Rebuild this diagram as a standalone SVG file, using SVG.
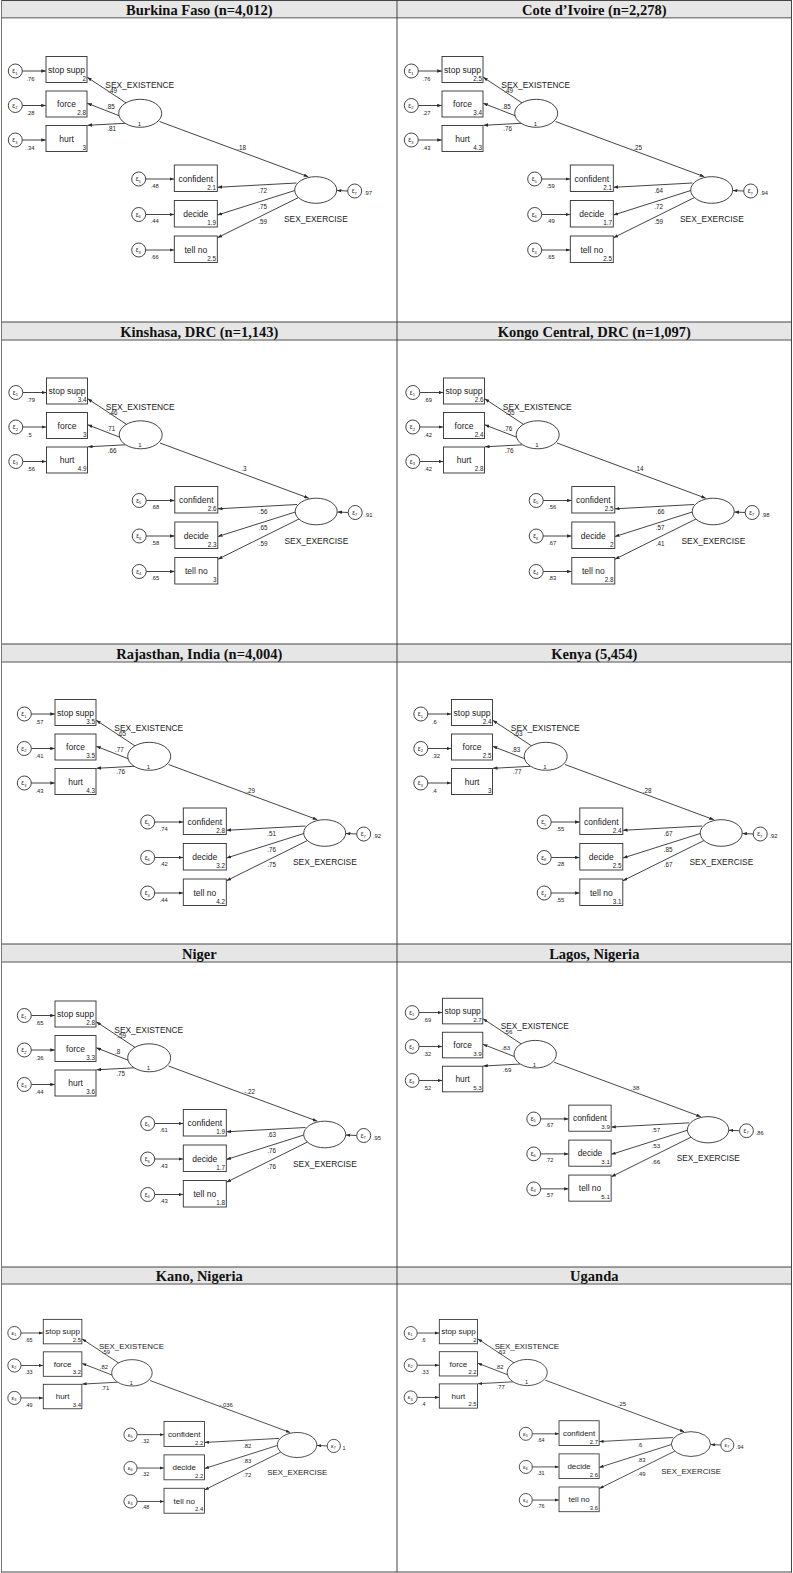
<svg xmlns="http://www.w3.org/2000/svg" width="793" height="1573" viewBox="0 0 793 1573">
<defs>
<marker id="ah" viewBox="0 0 8 6" refX="8" refY="3" markerWidth="4.6" markerHeight="3.4" markerUnits="userSpaceOnUse" orient="auto"><path d="M0,0L8,3L0,6z" fill="#2a2a2a"/></marker>
<style>
.hd{fill:#e6e6e6}
.tl{font-family:"Liberation Serif","Times New Roman",serif;font-weight:bold;font-size:14.5px;text-anchor:middle;fill:#111}
.gd{stroke:#444;stroke-width:1}
.gb{stroke:#888;stroke-width:1.5}
.ln line{stroke:#2f2f2f;stroke-width:0.9;marker-end:url(#ah)}
.bx{fill:#fff;stroke:#2f2f2f;stroke-width:0.9}
.d text{font-family:"Liberation Sans",Arial,sans-serif;fill:#222}
.d .lb{font-size:8.5px;text-anchor:middle}
.d .lt{font-size:8.4px}
.d .nv{font-size:6.3px;text-anchor:end}
.d .vr{font-size:5.8px}
.d .ld{font-size:6.3px}
.d .pt{font-size:6.3px;text-anchor:end}
.d .one{font-size:6px;text-anchor:middle}
.d .ep{font-size:6.5px}
.d .sb{font-size:4px}
</style>
</defs>
<rect x="0" y="0" width="793" height="1573" fill="#fff"/>
<g id="table">
<rect class="hd" x="1.5" y="0" width="790" height="18"/>
<rect class="hd" x="1.5" y="322" width="790" height="18"/>
<rect class="hd" x="1.5" y="644" width="790" height="18"/>
<rect class="hd" x="1.5" y="944" width="790" height="18"/>
<rect class="hd" x="1.5" y="1267" width="790" height="17"/>
<line class="gd" x1="1" y1="0.5" x2="792" y2="0.5"/>
<line class="gb" x1="1" y1="17.8" x2="792" y2="17.8"/>
<line class="gd" x1="1" y1="322" x2="792" y2="322"/>
<line class="gb" x1="1" y1="340" x2="792" y2="340"/>
<line class="gd" x1="1" y1="644" x2="792" y2="644"/>
<line class="gb" x1="1" y1="662" x2="792" y2="662"/>
<line class="gd" x1="1" y1="944" x2="792" y2="944"/>
<line class="gb" x1="1" y1="962" x2="792" y2="962"/>
<line class="gd" x1="1" y1="1267" x2="792" y2="1267"/>
<line class="gb" x1="1" y1="1284" x2="792" y2="1284"/>
<line class="gd" x1="1" y1="1572" x2="792" y2="1572"/>
<line x1="1.5" y1="0" x2="1.5" y2="1572.5" stroke="#777" stroke-width="1"/>
<line class="gd" x1="397" y1="0" x2="397" y2="1572.5"/>
<line class="gd" x1="791.5" y1="0" x2="791.5" y2="1572.5"/>
<text class="tl" x="199.3" y="15">Burkina Faso (n=4,012)</text>
<text class="tl" x="594.3" y="15">Cote d’Ivoire (n=2,278)</text>
<text class="tl" x="199.3" y="337">Kinshasa, DRC (n=1,143)</text>
<text class="tl" x="594.3" y="337">Kongo Central, DRC (n=1,097)</text>
<text class="tl" x="199.3" y="659">Rajasthan, India (n=4,004)</text>
<text class="tl" x="594.3" y="659">Kenya (5,454)</text>
<text class="tl" x="199.3" y="959">Niger</text>
<text class="tl" x="594.3" y="959">Lagos, Nigeria</text>
<text class="tl" x="199.3" y="1281">Kano, Nigeria</text>
<text class="tl" x="594.3" y="1281">Uganda</text>
</g>

<g id="bf" class="d" transform="translate(0,0)">
<g id="bf-conn" class="ln">
<line x1="22.3" y1="71" x2="45.8" y2="71"/><line x1="22.3" y1="105.5" x2="45.8" y2="105.5"/><line x1="22.3" y1="140" x2="45.8" y2="140"/>
<line x1="126.2" y1="103" x2="87.3" y2="77.3"/><line x1="119.1" y1="115.7" x2="87.3" y2="103.3"/><line x1="125" y1="123.3" x2="87.5" y2="125.3"/>
<line x1="159.5" y1="121.5" x2="308.3" y2="176.7"/><line x1="347.7" y1="191" x2="336.9" y2="190.5"/>
<line x1="145.7" y1="179" x2="174.1" y2="179"/><line x1="145.7" y1="214.5" x2="174.1" y2="214.5"/><line x1="145.7" y1="250" x2="174.1" y2="250"/>
<line x1="296.5" y1="183" x2="217.5" y2="187.3"/><line x1="294.8" y1="190.5" x2="217.5" y2="215"/><line x1="298.5" y1="197.5" x2="217.5" y2="237.7"/>
<text class="ld" x="108.3" y="93">.49</text><text class="ld" x="106" y="109.3">.85</text><text class="ld" x="107.3" y="131.3">.81</text>
<text class="pt" x="246" y="149.5">.18</text>
<text class="ld" x="258.3" y="192.7">.72</text><text class="ld" x="258.3" y="208.7">.75</text><text class="ld" x="258.3" y="224.3">.59</text>
</g>
<g id="bf-e1"><circle class="bx" cx="15.3" cy="71" r="7"/><text class="ep" x="12.3" y="73.2">ε<tspan class="sb" dy="1.3">1</tspan></text><text class="vr" x="26.5" y="80.5">.76</text></g>
<g id="bf-e2"><circle class="bx" cx="15.3" cy="105.5" r="7"/><text class="ep" x="12.3" y="107.7">ε<tspan class="sb" dy="1.3">2</tspan></text><text class="vr" x="26.5" y="115">.28</text></g>
<g id="bf-e3"><circle class="bx" cx="15.3" cy="140" r="7"/><text class="ep" x="12.3" y="142.2">ε<tspan class="sb" dy="1.3">3</tspan></text><text class="vr" x="26.5" y="149.5">.34</text></g>
<g id="bf-stop"><rect class="bx" x="46" y="56.5" width="41" height="26"/><text class="lb" x="66.5" y="72.5">stop supp</text><text class="nv" x="86" y="80.5">2</text></g>
<g id="bf-force"><rect class="bx" x="46" y="91" width="41" height="26"/><text class="lb" x="66.5" y="107">force</text><text class="nv" x="86" y="115">2.8</text></g>
<g id="bf-hurt"><rect class="bx" x="46" y="125.5" width="41" height="26"/><text class="lb" x="66.5" y="141.5">hurt</text><text class="nv" x="86" y="149.5">3</text></g>
<g id="bf-exist"><ellipse class="bx" cx="140.2" cy="113.3" rx="21.5" ry="14"/><text class="one" x="139.5" y="125.8">1</text><text class="lt" x="105.3" y="88">SEX_EXISTENCE</text></g>
<g id="bf-exer"><ellipse class="bx" cx="315.7" cy="190" rx="21" ry="13.3"/><text class="lt" x="284" y="222">SEX_EXERCISE</text></g>
<g id="bf-e7"><circle class="bx" cx="354.7" cy="191" r="7"/><text class="ep" x="351.7" y="193.2">ε<tspan class="sb" dy="1.3">7</tspan></text><text class="vr" x="364" y="195">.97</text></g>
<g id="bf-conf"><rect class="bx" x="174.3" y="165" width="43" height="26.5"/><text class="lb" x="195.8" y="181.5">confident</text><text class="nv" x="216" y="189.5">2.1</text></g>
<g id="bf-dec"><rect class="bx" x="174.3" y="200.5" width="43" height="26.5"/><text class="lb" x="195.8" y="217">decide</text><text class="nv" x="216" y="225">1.9</text></g>
<g id="bf-tell"><rect class="bx" x="174.3" y="236" width="43" height="26.5"/><text class="lb" x="195.8" y="252.5">tell no</text><text class="nv" x="216" y="260.5">2.5</text></g>
<g id="bf-e5"><circle class="bx" cx="138.7" cy="179" r="7"/><text class="ep" x="135.7" y="181.2">ε<tspan class="sb" dy="1.3">5</tspan></text><text class="vr" x="150.7" y="187.5">.48</text></g>
<g id="bf-e6"><circle class="bx" cx="138.7" cy="214.5" r="7"/><text class="ep" x="135.7" y="216.7">ε<tspan class="sb" dy="1.3">6</tspan></text><text class="vr" x="150.7" y="223">.44</text></g>
<g id="bf-e4"><circle class="bx" cx="138.7" cy="250" r="7"/><text class="ep" x="135.7" y="252.2">ε<tspan class="sb" dy="1.3">4</tspan></text><text class="vr" x="150.7" y="258.5">.66</text></g>
</g>

<g id="ci" class="d" transform="translate(396,0)">
<g id="ci-conn" class="ln">
<line x1="22.3" y1="71" x2="45.8" y2="71"/><line x1="22.3" y1="105.5" x2="45.8" y2="105.5"/><line x1="22.3" y1="140" x2="45.8" y2="140"/>
<line x1="126.2" y1="103" x2="87.3" y2="77.3"/><line x1="119.1" y1="115.7" x2="87.3" y2="103.3"/><line x1="125" y1="123.3" x2="87.5" y2="125.3"/>
<line x1="159.5" y1="121.5" x2="308.3" y2="176.7"/><line x1="347.7" y1="191" x2="336.9" y2="190.5"/>
<line x1="145.7" y1="179" x2="174.1" y2="179"/><line x1="145.7" y1="214.5" x2="174.1" y2="214.5"/><line x1="145.7" y1="250" x2="174.1" y2="250"/>
<line x1="296.5" y1="183" x2="217.5" y2="187.3"/><line x1="294.8" y1="190.5" x2="217.5" y2="215"/><line x1="298.5" y1="197.5" x2="217.5" y2="237.7"/>
<text class="ld" x="108.3" y="93">.49</text><text class="ld" x="106" y="109.3">.85</text><text class="ld" x="107.3" y="131.3">.76</text>
<text class="pt" x="246" y="149.5">.25</text>
<text class="ld" x="258.3" y="192.7">.64</text><text class="ld" x="258.3" y="208.7">.72</text><text class="ld" x="258.3" y="224.3">.59</text>
</g>
<g id="ci-e1"><circle class="bx" cx="15.3" cy="71" r="7"/><text class="ep" x="12.3" y="73.2">ε<tspan class="sb" dy="1.3">1</tspan></text><text class="vr" x="26.5" y="80.5">.76</text></g>
<g id="ci-e2"><circle class="bx" cx="15.3" cy="105.5" r="7"/><text class="ep" x="12.3" y="107.7">ε<tspan class="sb" dy="1.3">2</tspan></text><text class="vr" x="26.5" y="115">.27</text></g>
<g id="ci-e3"><circle class="bx" cx="15.3" cy="140" r="7"/><text class="ep" x="12.3" y="142.2">ε<tspan class="sb" dy="1.3">3</tspan></text><text class="vr" x="26.5" y="149.5">.43</text></g>
<g id="ci-stop"><rect class="bx" x="46" y="56.5" width="41" height="26"/><text class="lb" x="66.5" y="72.5">stop supp</text><text class="nv" x="86" y="80.5">2.5</text></g>
<g id="ci-force"><rect class="bx" x="46" y="91" width="41" height="26"/><text class="lb" x="66.5" y="107">force</text><text class="nv" x="86" y="115">3.4</text></g>
<g id="ci-hurt"><rect class="bx" x="46" y="125.5" width="41" height="26"/><text class="lb" x="66.5" y="141.5">hurt</text><text class="nv" x="86" y="149.5">4.3</text></g>
<g id="ci-exist"><ellipse class="bx" cx="140.2" cy="113.3" rx="21.5" ry="14"/><text class="one" x="139.5" y="125.8">1</text><text class="lt" x="105.3" y="88">SEX_EXISTENCE</text></g>
<g id="ci-exer"><ellipse class="bx" cx="315.7" cy="190" rx="21" ry="13.3"/><text class="lt" x="284" y="222">SEX_EXERCISE</text></g>
<g id="ci-e7"><circle class="bx" cx="354.7" cy="191" r="7"/><text class="ep" x="351.7" y="193.2">ε<tspan class="sb" dy="1.3">7</tspan></text><text class="vr" x="364" y="195">.94</text></g>
<g id="ci-conf"><rect class="bx" x="174.3" y="165" width="43" height="26.5"/><text class="lb" x="195.8" y="181.5">confident</text><text class="nv" x="216" y="189.5">2.1</text></g>
<g id="ci-dec"><rect class="bx" x="174.3" y="200.5" width="43" height="26.5"/><text class="lb" x="195.8" y="217">decide</text><text class="nv" x="216" y="225">1.7</text></g>
<g id="ci-tell"><rect class="bx" x="174.3" y="236" width="43" height="26.5"/><text class="lb" x="195.8" y="252.5">tell no</text><text class="nv" x="216" y="260.5">2.5</text></g>
<g id="ci-e5"><circle class="bx" cx="138.7" cy="179" r="7"/><text class="ep" x="135.7" y="181.2">ε<tspan class="sb" dy="1.3">5</tspan></text><text class="vr" x="150.7" y="187.5">.59</text></g>
<g id="ci-e6"><circle class="bx" cx="138.7" cy="214.5" r="7"/><text class="ep" x="135.7" y="216.7">ε<tspan class="sb" dy="1.3">6</tspan></text><text class="vr" x="150.7" y="223">.49</text></g>
<g id="ci-e4"><circle class="bx" cx="138.7" cy="250" r="7"/><text class="ep" x="135.7" y="252.2">ε<tspan class="sb" dy="1.3">4</tspan></text><text class="vr" x="150.7" y="258.5">.65</text></g>
</g>

<g id="kin" class="d" transform="translate(0.5,321.5)">
<g id="kin-conn" class="ln">
<line x1="22.3" y1="71" x2="45.8" y2="71"/><line x1="22.3" y1="105.5" x2="45.8" y2="105.5"/><line x1="22.3" y1="140" x2="45.8" y2="140"/>
<line x1="126.2" y1="103" x2="87.3" y2="77.3"/><line x1="119.1" y1="115.7" x2="87.3" y2="103.3"/><line x1="125" y1="123.3" x2="87.5" y2="125.3"/>
<line x1="159.5" y1="121.5" x2="308.3" y2="176.7"/><line x1="347.7" y1="191" x2="336.9" y2="190.5"/>
<line x1="145.7" y1="179" x2="174.1" y2="179"/><line x1="145.7" y1="214.5" x2="174.1" y2="214.5"/><line x1="145.7" y1="250" x2="174.1" y2="250"/>
<line x1="296.5" y1="183" x2="217.5" y2="187.3"/><line x1="294.8" y1="190.5" x2="217.5" y2="215"/><line x1="298.5" y1="197.5" x2="217.5" y2="237.7"/>
<text class="ld" x="108.3" y="93">.46</text><text class="ld" x="106" y="109.3">.71</text><text class="ld" x="107.3" y="131.3">.66</text>
<text class="pt" x="246" y="149.5">.3</text>
<text class="ld" x="258.3" y="192.7">.56</text><text class="ld" x="258.3" y="208.7">.65</text><text class="ld" x="258.3" y="224.3">.59</text>
</g>
<g id="kin-e1"><circle class="bx" cx="15.3" cy="71" r="7"/><text class="ep" x="12.3" y="73.2">ε<tspan class="sb" dy="1.3">1</tspan></text><text class="vr" x="26.5" y="80.5">.79</text></g>
<g id="kin-e2"><circle class="bx" cx="15.3" cy="105.5" r="7"/><text class="ep" x="12.3" y="107.7">ε<tspan class="sb" dy="1.3">2</tspan></text><text class="vr" x="26.5" y="115">.5</text></g>
<g id="kin-e3"><circle class="bx" cx="15.3" cy="140" r="7"/><text class="ep" x="12.3" y="142.2">ε<tspan class="sb" dy="1.3">3</tspan></text><text class="vr" x="26.5" y="149.5">.56</text></g>
<g id="kin-stop"><rect class="bx" x="46" y="56.5" width="41" height="26"/><text class="lb" x="66.5" y="72.5">stop supp</text><text class="nv" x="86" y="80.5">3.4</text></g>
<g id="kin-force"><rect class="bx" x="46" y="91" width="41" height="26"/><text class="lb" x="66.5" y="107">force</text><text class="nv" x="86" y="115">3</text></g>
<g id="kin-hurt"><rect class="bx" x="46" y="125.5" width="41" height="26"/><text class="lb" x="66.5" y="141.5">hurt</text><text class="nv" x="86" y="149.5">4.9</text></g>
<g id="kin-exist"><ellipse class="bx" cx="140.2" cy="113.3" rx="21.5" ry="14"/><text class="one" x="139.5" y="125.8">1</text><text class="lt" x="105.3" y="88">SEX_EXISTENCE</text></g>
<g id="kin-exer"><ellipse class="bx" cx="315.7" cy="190" rx="21" ry="13.3"/><text class="lt" x="284" y="222">SEX_EXERCISE</text></g>
<g id="kin-e7"><circle class="bx" cx="354.7" cy="191" r="7"/><text class="ep" x="351.7" y="193.2">ε<tspan class="sb" dy="1.3">7</tspan></text><text class="vr" x="364" y="195">.91</text></g>
<g id="kin-conf"><rect class="bx" x="174.3" y="165" width="43" height="26.5"/><text class="lb" x="195.8" y="181.5">confident</text><text class="nv" x="216" y="189.5">2.6</text></g>
<g id="kin-dec"><rect class="bx" x="174.3" y="200.5" width="43" height="26.5"/><text class="lb" x="195.8" y="217">decide</text><text class="nv" x="216" y="225">2.3</text></g>
<g id="kin-tell"><rect class="bx" x="174.3" y="236" width="43" height="26.5"/><text class="lb" x="195.8" y="252.5">tell no</text><text class="nv" x="216" y="260.5">3</text></g>
<g id="kin-e5"><circle class="bx" cx="138.7" cy="179" r="7"/><text class="ep" x="135.7" y="181.2">ε<tspan class="sb" dy="1.3">5</tspan></text><text class="vr" x="150.7" y="187.5">.68</text></g>
<g id="kin-e6"><circle class="bx" cx="138.7" cy="214.5" r="7"/><text class="ep" x="135.7" y="216.7">ε<tspan class="sb" dy="1.3">6</tspan></text><text class="vr" x="150.7" y="223">.58</text></g>
<g id="kin-e4"><circle class="bx" cx="138.7" cy="250" r="7"/><text class="ep" x="135.7" y="252.2">ε<tspan class="sb" dy="1.3">4</tspan></text><text class="vr" x="150.7" y="258.5">.65</text></g>
</g>

<g id="kon" class="d" transform="translate(397.5,321.5)">
<g id="kon-conn" class="ln">
<line x1="22.3" y1="71" x2="45.8" y2="71"/><line x1="22.3" y1="105.5" x2="45.8" y2="105.5"/><line x1="22.3" y1="140" x2="45.8" y2="140"/>
<line x1="126.2" y1="103" x2="87.3" y2="77.3"/><line x1="119.1" y1="115.7" x2="87.3" y2="103.3"/><line x1="125" y1="123.3" x2="87.5" y2="125.3"/>
<line x1="159.5" y1="121.5" x2="308.3" y2="176.7"/><line x1="347.7" y1="191" x2="336.9" y2="190.5"/>
<line x1="145.7" y1="179" x2="174.1" y2="179"/><line x1="145.7" y1="214.5" x2="174.1" y2="214.5"/><line x1="145.7" y1="250" x2="174.1" y2="250"/>
<line x1="296.5" y1="183" x2="217.5" y2="187.3"/><line x1="294.8" y1="190.5" x2="217.5" y2="215"/><line x1="298.5" y1="197.5" x2="217.5" y2="237.7"/>
<text class="ld" x="108.3" y="93">.55</text><text class="ld" x="106" y="109.3">.76</text><text class="ld" x="107.3" y="131.3">.76</text>
<text class="pt" x="246" y="149.5">.14</text>
<text class="ld" x="258.3" y="192.7">.66</text><text class="ld" x="258.3" y="208.7">.57</text><text class="ld" x="258.3" y="224.3">.41</text>
</g>
<g id="kon-e1"><circle class="bx" cx="15.3" cy="71" r="7"/><text class="ep" x="12.3" y="73.2">ε<tspan class="sb" dy="1.3">1</tspan></text><text class="vr" x="26.5" y="80.5">.69</text></g>
<g id="kon-e2"><circle class="bx" cx="15.3" cy="105.5" r="7"/><text class="ep" x="12.3" y="107.7">ε<tspan class="sb" dy="1.3">2</tspan></text><text class="vr" x="26.5" y="115">.42</text></g>
<g id="kon-e3"><circle class="bx" cx="15.3" cy="140" r="7"/><text class="ep" x="12.3" y="142.2">ε<tspan class="sb" dy="1.3">3</tspan></text><text class="vr" x="26.5" y="149.5">.42</text></g>
<g id="kon-stop"><rect class="bx" x="46" y="56.5" width="41" height="26"/><text class="lb" x="66.5" y="72.5">stop supp</text><text class="nv" x="86" y="80.5">2.6</text></g>
<g id="kon-force"><rect class="bx" x="46" y="91" width="41" height="26"/><text class="lb" x="66.5" y="107">force</text><text class="nv" x="86" y="115">2.4</text></g>
<g id="kon-hurt"><rect class="bx" x="46" y="125.5" width="41" height="26"/><text class="lb" x="66.5" y="141.5">hurt</text><text class="nv" x="86" y="149.5">2.8</text></g>
<g id="kon-exist"><ellipse class="bx" cx="140.2" cy="113.3" rx="21.5" ry="14"/><text class="one" x="139.5" y="125.8">1</text><text class="lt" x="105.3" y="88">SEX_EXISTENCE</text></g>
<g id="kon-exer"><ellipse class="bx" cx="315.7" cy="190" rx="21" ry="13.3"/><text class="lt" x="284" y="222">SEX_EXERCISE</text></g>
<g id="kon-e7"><circle class="bx" cx="354.7" cy="191" r="7"/><text class="ep" x="351.7" y="193.2">ε<tspan class="sb" dy="1.3">7</tspan></text><text class="vr" x="364" y="195">.98</text></g>
<g id="kon-conf"><rect class="bx" x="174.3" y="165" width="43" height="26.5"/><text class="lb" x="195.8" y="181.5">confident</text><text class="nv" x="216" y="189.5">2.5</text></g>
<g id="kon-dec"><rect class="bx" x="174.3" y="200.5" width="43" height="26.5"/><text class="lb" x="195.8" y="217">decide</text><text class="nv" x="216" y="225">2</text></g>
<g id="kon-tell"><rect class="bx" x="174.3" y="236" width="43" height="26.5"/><text class="lb" x="195.8" y="252.5">tell no</text><text class="nv" x="216" y="260.5">2.8</text></g>
<g id="kon-e5"><circle class="bx" cx="138.7" cy="179" r="7"/><text class="ep" x="135.7" y="181.2">ε<tspan class="sb" dy="1.3">5</tspan></text><text class="vr" x="150.7" y="187.5">.56</text></g>
<g id="kon-e6"><circle class="bx" cx="138.7" cy="214.5" r="7"/><text class="ep" x="135.7" y="216.7">ε<tspan class="sb" dy="1.3">6</tspan></text><text class="vr" x="150.7" y="223">.67</text></g>
<g id="kon-e4"><circle class="bx" cx="138.7" cy="250" r="7"/><text class="ep" x="135.7" y="252.2">ε<tspan class="sb" dy="1.3">4</tspan></text><text class="vr" x="150.7" y="258.5">.83</text></g>
</g>

<g id="raj" class="d" transform="translate(9,643)">
<g id="raj-conn" class="ln">
<line x1="22.3" y1="71" x2="45.8" y2="71"/><line x1="22.3" y1="105.5" x2="45.8" y2="105.5"/><line x1="22.3" y1="140" x2="45.8" y2="140"/>
<line x1="126.2" y1="103" x2="87.3" y2="77.3"/><line x1="119.1" y1="115.7" x2="87.3" y2="103.3"/><line x1="125" y1="123.3" x2="87.5" y2="125.3"/>
<line x1="159.5" y1="121.5" x2="308.3" y2="176.7"/><line x1="347.7" y1="191" x2="336.9" y2="190.5"/>
<line x1="145.7" y1="179" x2="174.1" y2="179"/><line x1="145.7" y1="214.5" x2="174.1" y2="214.5"/><line x1="145.7" y1="250" x2="174.1" y2="250"/>
<line x1="296.5" y1="183" x2="217.5" y2="187.3"/><line x1="294.8" y1="190.5" x2="217.5" y2="215"/><line x1="298.5" y1="197.5" x2="217.5" y2="237.7"/>
<text class="ld" x="108.3" y="93">.65</text><text class="ld" x="106" y="109.3">.77</text><text class="ld" x="107.3" y="131.3">.76</text>
<text class="pt" x="246" y="149.5">.29</text>
<text class="ld" x="258.3" y="192.7">.51</text><text class="ld" x="258.3" y="208.7">.76</text><text class="ld" x="258.3" y="224.3">.75</text>
</g>
<g id="raj-e1"><circle class="bx" cx="15.3" cy="71" r="7"/><text class="ep" x="12.3" y="73.2">ε<tspan class="sb" dy="1.3">1</tspan></text><text class="vr" x="26.5" y="80.5">.57</text></g>
<g id="raj-e2"><circle class="bx" cx="15.3" cy="105.5" r="7"/><text class="ep" x="12.3" y="107.7">ε<tspan class="sb" dy="1.3">2</tspan></text><text class="vr" x="26.5" y="115">.41</text></g>
<g id="raj-e3"><circle class="bx" cx="15.3" cy="140" r="7"/><text class="ep" x="12.3" y="142.2">ε<tspan class="sb" dy="1.3">3</tspan></text><text class="vr" x="26.5" y="149.5">.43</text></g>
<g id="raj-stop"><rect class="bx" x="46" y="56.5" width="41" height="26"/><text class="lb" x="66.5" y="72.5">stop supp</text><text class="nv" x="86" y="80.5">3.5</text></g>
<g id="raj-force"><rect class="bx" x="46" y="91" width="41" height="26"/><text class="lb" x="66.5" y="107">force</text><text class="nv" x="86" y="115">3.5</text></g>
<g id="raj-hurt"><rect class="bx" x="46" y="125.5" width="41" height="26"/><text class="lb" x="66.5" y="141.5">hurt</text><text class="nv" x="86" y="149.5">4.3</text></g>
<g id="raj-exist"><ellipse class="bx" cx="140.2" cy="113.3" rx="21.5" ry="14"/><text class="one" x="139.5" y="125.8">1</text><text class="lt" x="105.3" y="88">SEX_EXISTENCE</text></g>
<g id="raj-exer"><ellipse class="bx" cx="315.7" cy="190" rx="21" ry="13.3"/><text class="lt" x="284" y="222">SEX_EXERCISE</text></g>
<g id="raj-e7"><circle class="bx" cx="354.7" cy="191" r="7"/><text class="ep" x="351.7" y="193.2">ε<tspan class="sb" dy="1.3">7</tspan></text><text class="vr" x="364" y="195">.92</text></g>
<g id="raj-conf"><rect class="bx" x="174.3" y="165" width="43" height="26.5"/><text class="lb" x="195.8" y="181.5">confident</text><text class="nv" x="216" y="189.5">2.8</text></g>
<g id="raj-dec"><rect class="bx" x="174.3" y="200.5" width="43" height="26.5"/><text class="lb" x="195.8" y="217">decide</text><text class="nv" x="216" y="225">3.2</text></g>
<g id="raj-tell"><rect class="bx" x="174.3" y="236" width="43" height="26.5"/><text class="lb" x="195.8" y="252.5">tell no</text><text class="nv" x="216" y="260.5">4.2</text></g>
<g id="raj-e5"><circle class="bx" cx="138.7" cy="179" r="7"/><text class="ep" x="135.7" y="181.2">ε<tspan class="sb" dy="1.3">5</tspan></text><text class="vr" x="150.7" y="187.5">.74</text></g>
<g id="raj-e6"><circle class="bx" cx="138.7" cy="214.5" r="7"/><text class="ep" x="135.7" y="216.7">ε<tspan class="sb" dy="1.3">6</tspan></text><text class="vr" x="150.7" y="223">.42</text></g>
<g id="raj-e4"><circle class="bx" cx="138.7" cy="250" r="7"/><text class="ep" x="135.7" y="252.2">ε<tspan class="sb" dy="1.3">4</tspan></text><text class="vr" x="150.7" y="258.5">.44</text></g>
</g>

<g id="ken" class="d" transform="translate(405.5,643)">
<g id="ken-conn" class="ln">
<line x1="22.3" y1="71" x2="45.8" y2="71"/><line x1="22.3" y1="105.5" x2="45.8" y2="105.5"/><line x1="22.3" y1="140" x2="45.8" y2="140"/>
<line x1="126.2" y1="103" x2="87.3" y2="77.3"/><line x1="119.1" y1="115.7" x2="87.3" y2="103.3"/><line x1="125" y1="123.3" x2="87.5" y2="125.3"/>
<line x1="159.5" y1="121.5" x2="308.3" y2="176.7"/><line x1="347.7" y1="191" x2="336.9" y2="190.5"/>
<line x1="145.7" y1="179" x2="174.1" y2="179"/><line x1="145.7" y1="214.5" x2="174.1" y2="214.5"/><line x1="145.7" y1="250" x2="174.1" y2="250"/>
<line x1="296.5" y1="183" x2="217.5" y2="187.3"/><line x1="294.8" y1="190.5" x2="217.5" y2="215"/><line x1="298.5" y1="197.5" x2="217.5" y2="237.7"/>
<text class="ld" x="108.3" y="93">.63</text><text class="ld" x="106" y="109.3">.83</text><text class="ld" x="107.3" y="131.3">.77</text>
<text class="pt" x="246" y="149.5">.28</text>
<text class="ld" x="258.3" y="192.7">.67</text><text class="ld" x="258.3" y="208.7">.85</text><text class="ld" x="258.3" y="224.3">.67</text>
</g>
<g id="ken-e1"><circle class="bx" cx="15.3" cy="71" r="7"/><text class="ep" x="12.3" y="73.2">ε<tspan class="sb" dy="1.3">1</tspan></text><text class="vr" x="26.5" y="80.5">.6</text></g>
<g id="ken-e2"><circle class="bx" cx="15.3" cy="105.5" r="7"/><text class="ep" x="12.3" y="107.7">ε<tspan class="sb" dy="1.3">2</tspan></text><text class="vr" x="26.5" y="115">.32</text></g>
<g id="ken-e3"><circle class="bx" cx="15.3" cy="140" r="7"/><text class="ep" x="12.3" y="142.2">ε<tspan class="sb" dy="1.3">3</tspan></text><text class="vr" x="26.5" y="149.5">.4</text></g>
<g id="ken-stop"><rect class="bx" x="46" y="56.5" width="41" height="26"/><text class="lb" x="66.5" y="72.5">stop supp</text><text class="nv" x="86" y="80.5">2.4</text></g>
<g id="ken-force"><rect class="bx" x="46" y="91" width="41" height="26"/><text class="lb" x="66.5" y="107">force</text><text class="nv" x="86" y="115">2.5</text></g>
<g id="ken-hurt"><rect class="bx" x="46" y="125.5" width="41" height="26"/><text class="lb" x="66.5" y="141.5">hurt</text><text class="nv" x="86" y="149.5">3</text></g>
<g id="ken-exist"><ellipse class="bx" cx="140.2" cy="113.3" rx="21.5" ry="14"/><text class="one" x="139.5" y="125.8">1</text><text class="lt" x="105.3" y="88">SEX_EXISTENCE</text></g>
<g id="ken-exer"><ellipse class="bx" cx="315.7" cy="190" rx="21" ry="13.3"/><text class="lt" x="284" y="222">SEX_EXERCISE</text></g>
<g id="ken-e7"><circle class="bx" cx="354.7" cy="191" r="7"/><text class="ep" x="351.7" y="193.2">ε<tspan class="sb" dy="1.3">7</tspan></text><text class="vr" x="364" y="195">.92</text></g>
<g id="ken-conf"><rect class="bx" x="174.3" y="165" width="43" height="26.5"/><text class="lb" x="195.8" y="181.5">confident</text><text class="nv" x="216" y="189.5">2.4</text></g>
<g id="ken-dec"><rect class="bx" x="174.3" y="200.5" width="43" height="26.5"/><text class="lb" x="195.8" y="217">decide</text><text class="nv" x="216" y="225">2.5</text></g>
<g id="ken-tell"><rect class="bx" x="174.3" y="236" width="43" height="26.5"/><text class="lb" x="195.8" y="252.5">tell no</text><text class="nv" x="216" y="260.5">3.1</text></g>
<g id="ken-e5"><circle class="bx" cx="138.7" cy="179" r="7"/><text class="ep" x="135.7" y="181.2">ε<tspan class="sb" dy="1.3">5</tspan></text><text class="vr" x="150.7" y="187.5">.55</text></g>
<g id="ken-e6"><circle class="bx" cx="138.7" cy="214.5" r="7"/><text class="ep" x="135.7" y="216.7">ε<tspan class="sb" dy="1.3">6</tspan></text><text class="vr" x="150.7" y="223">.28</text></g>
<g id="ken-e4"><circle class="bx" cx="138.7" cy="250" r="7"/><text class="ep" x="135.7" y="252.2">ε<tspan class="sb" dy="1.3">4</tspan></text><text class="vr" x="150.7" y="258.5">.55</text></g>
</g>

<g id="nig" class="d" transform="translate(9,944.5)">
<g id="nig-conn" class="ln">
<line x1="22.3" y1="71" x2="45.8" y2="71"/><line x1="22.3" y1="105.5" x2="45.8" y2="105.5"/><line x1="22.3" y1="140" x2="45.8" y2="140"/>
<line x1="126.2" y1="103" x2="87.3" y2="77.3"/><line x1="119.1" y1="115.7" x2="87.3" y2="103.3"/><line x1="125" y1="123.3" x2="87.5" y2="125.3"/>
<line x1="159.5" y1="121.5" x2="308.3" y2="176.7"/><line x1="347.7" y1="191" x2="336.9" y2="190.5"/>
<line x1="145.7" y1="179" x2="174.1" y2="179"/><line x1="145.7" y1="214.5" x2="174.1" y2="214.5"/><line x1="145.7" y1="250" x2="174.1" y2="250"/>
<line x1="296.5" y1="183" x2="217.5" y2="187.3"/><line x1="294.8" y1="190.5" x2="217.5" y2="215"/><line x1="298.5" y1="197.5" x2="217.5" y2="237.7"/>
<text class="ld" x="108.3" y="93">.59</text><text class="ld" x="106" y="109.3">.8</text><text class="ld" x="107.3" y="131.3">.75</text>
<text class="pt" x="246" y="149.5">-.22</text>
<text class="ld" x="258.3" y="192.7">.63</text><text class="ld" x="258.3" y="208.7">.76</text><text class="ld" x="258.3" y="224.3">.76</text>
</g>
<g id="nig-e1"><circle class="bx" cx="15.3" cy="71" r="7"/><text class="ep" x="12.3" y="73.2">ε<tspan class="sb" dy="1.3">1</tspan></text><text class="vr" x="26.5" y="80.5">.65</text></g>
<g id="nig-e2"><circle class="bx" cx="15.3" cy="105.5" r="7"/><text class="ep" x="12.3" y="107.7">ε<tspan class="sb" dy="1.3">2</tspan></text><text class="vr" x="26.5" y="115">.36</text></g>
<g id="nig-e3"><circle class="bx" cx="15.3" cy="140" r="7"/><text class="ep" x="12.3" y="142.2">ε<tspan class="sb" dy="1.3">3</tspan></text><text class="vr" x="26.5" y="149.5">.44</text></g>
<g id="nig-stop"><rect class="bx" x="46" y="56.5" width="41" height="26"/><text class="lb" x="66.5" y="72.5">stop supp</text><text class="nv" x="86" y="80.5">2.8</text></g>
<g id="nig-force"><rect class="bx" x="46" y="91" width="41" height="26"/><text class="lb" x="66.5" y="107">force</text><text class="nv" x="86" y="115">3.3</text></g>
<g id="nig-hurt"><rect class="bx" x="46" y="125.5" width="41" height="26"/><text class="lb" x="66.5" y="141.5">hurt</text><text class="nv" x="86" y="149.5">3.6</text></g>
<g id="nig-exist"><ellipse class="bx" cx="140.2" cy="113.3" rx="21.5" ry="14"/><text class="one" x="139.5" y="125.8">1</text><text class="lt" x="105.3" y="88">SEX_EXISTENCE</text></g>
<g id="nig-exer"><ellipse class="bx" cx="315.7" cy="190" rx="21" ry="13.3"/><text class="lt" x="284" y="222">SEX_EXERCISE</text></g>
<g id="nig-e7"><circle class="bx" cx="354.7" cy="191" r="7"/><text class="ep" x="351.7" y="193.2">ε<tspan class="sb" dy="1.3">7</tspan></text><text class="vr" x="364" y="195">.95</text></g>
<g id="nig-conf"><rect class="bx" x="174.3" y="165" width="43" height="26.5"/><text class="lb" x="195.8" y="181.5">confident</text><text class="nv" x="216" y="189.5">1.9</text></g>
<g id="nig-dec"><rect class="bx" x="174.3" y="200.5" width="43" height="26.5"/><text class="lb" x="195.8" y="217">decide</text><text class="nv" x="216" y="225">1.7</text></g>
<g id="nig-tell"><rect class="bx" x="174.3" y="236" width="43" height="26.5"/><text class="lb" x="195.8" y="252.5">tell no</text><text class="nv" x="216" y="260.5">1.8</text></g>
<g id="nig-e5"><circle class="bx" cx="138.7" cy="179" r="7"/><text class="ep" x="135.7" y="181.2">ε<tspan class="sb" dy="1.3">5</tspan></text><text class="vr" x="150.7" y="187.5">.61</text></g>
<g id="nig-e6"><circle class="bx" cx="138.7" cy="214.5" r="7"/><text class="ep" x="135.7" y="216.7">ε<tspan class="sb" dy="1.3">6</tspan></text><text class="vr" x="150.7" y="223">.43</text></g>
<g id="nig-e4"><circle class="bx" cx="138.7" cy="250" r="7"/><text class="ep" x="135.7" y="252.2">ε<tspan class="sb" dy="1.3">4</tspan></text><text class="vr" x="150.7" y="258.5">.43</text></g>
</g>

<g id="lag" class="d" transform="translate(397.1,942.6) scale(0.985)">
<g id="lag-conn" class="ln">
<line x1="22.3" y1="71" x2="45.8" y2="71"/><line x1="22.3" y1="105.5" x2="45.8" y2="105.5"/><line x1="22.3" y1="140" x2="45.8" y2="140"/>
<line x1="126.2" y1="103" x2="87.3" y2="77.3"/><line x1="119.1" y1="115.7" x2="87.3" y2="103.3"/><line x1="125" y1="123.3" x2="87.5" y2="125.3"/>
<line x1="159.5" y1="121.5" x2="308.3" y2="176.7"/><line x1="347.7" y1="191" x2="336.9" y2="190.5"/>
<line x1="145.7" y1="179" x2="174.1" y2="179"/><line x1="145.7" y1="214.5" x2="174.1" y2="214.5"/><line x1="145.7" y1="250" x2="174.1" y2="250"/>
<line x1="296.5" y1="183" x2="217.5" y2="187.3"/><line x1="294.8" y1="190.5" x2="217.5" y2="215"/><line x1="298.5" y1="197.5" x2="217.5" y2="237.7"/>
<text class="ld" x="108.3" y="93">.56</text><text class="ld" x="106" y="109.3">.83</text><text class="ld" x="107.3" y="131.3">.69</text>
<text class="pt" x="246" y="149.5">.38</text>
<text class="ld" x="258.3" y="192.7">.57</text><text class="ld" x="258.3" y="208.7">.53</text><text class="ld" x="258.3" y="224.3">.66</text>
</g>
<g id="lag-e1"><circle class="bx" cx="15.3" cy="71" r="7"/><text class="ep" x="12.3" y="73.2">ε<tspan class="sb" dy="1.3">1</tspan></text><text class="vr" x="26.5" y="80.5">.69</text></g>
<g id="lag-e2"><circle class="bx" cx="15.3" cy="105.5" r="7"/><text class="ep" x="12.3" y="107.7">ε<tspan class="sb" dy="1.3">2</tspan></text><text class="vr" x="26.5" y="115">.32</text></g>
<g id="lag-e3"><circle class="bx" cx="15.3" cy="140" r="7"/><text class="ep" x="12.3" y="142.2">ε<tspan class="sb" dy="1.3">3</tspan></text><text class="vr" x="26.5" y="149.5">.52</text></g>
<g id="lag-stop"><rect class="bx" x="46" y="56.5" width="41" height="26"/><text class="lb" x="66.5" y="72.5">stop supp</text><text class="nv" x="86" y="80.5">2.7</text></g>
<g id="lag-force"><rect class="bx" x="46" y="91" width="41" height="26"/><text class="lb" x="66.5" y="107">force</text><text class="nv" x="86" y="115">3.9</text></g>
<g id="lag-hurt"><rect class="bx" x="46" y="125.5" width="41" height="26"/><text class="lb" x="66.5" y="141.5">hurt</text><text class="nv" x="86" y="149.5">5.3</text></g>
<g id="lag-exist"><ellipse class="bx" cx="140.2" cy="113.3" rx="21.5" ry="14"/><text class="one" x="139.5" y="125.8">1</text><text class="lt" x="105.3" y="88">SEX_EXISTENCE</text></g>
<g id="lag-exer"><ellipse class="bx" cx="315.7" cy="190" rx="21" ry="13.3"/><text class="lt" x="284" y="222">SEX_EXERCISE</text></g>
<g id="lag-e7"><circle class="bx" cx="354.7" cy="191" r="7"/><text class="ep" x="351.7" y="193.2">ε<tspan class="sb" dy="1.3">7</tspan></text><text class="vr" x="364" y="195">.86</text></g>
<g id="lag-conf"><rect class="bx" x="174.3" y="165" width="43" height="26.5"/><text class="lb" x="195.8" y="181.5">confident</text><text class="nv" x="216" y="189.5">3.9</text></g>
<g id="lag-dec"><rect class="bx" x="174.3" y="200.5" width="43" height="26.5"/><text class="lb" x="195.8" y="217">decide</text><text class="nv" x="216" y="225">3.1</text></g>
<g id="lag-tell"><rect class="bx" x="174.3" y="236" width="43" height="26.5"/><text class="lb" x="195.8" y="252.5">tell no</text><text class="nv" x="216" y="260.5">5.1</text></g>
<g id="lag-e5"><circle class="bx" cx="138.7" cy="179" r="7"/><text class="ep" x="135.7" y="181.2">ε<tspan class="sb" dy="1.3">5</tspan></text><text class="vr" x="150.7" y="187.5">.67</text></g>
<g id="lag-e6"><circle class="bx" cx="138.7" cy="214.5" r="7"/><text class="ep" x="135.7" y="216.7">ε<tspan class="sb" dy="1.3">6</tspan></text><text class="vr" x="150.7" y="223">.72</text></g>
<g id="lag-e4"><circle class="bx" cx="138.7" cy="250" r="7"/><text class="ep" x="135.7" y="252.2">ε<tspan class="sb" dy="1.3">4</tspan></text><text class="vr" x="150.7" y="258.5">.57</text></g>
</g>

<g id="kan" class="d" transform="translate(0,1266.2) scale(0.941)">
<g id="kan-conn" class="ln">
<line x1="22.3" y1="71" x2="45.8" y2="71"/><line x1="22.3" y1="105.5" x2="45.8" y2="105.5"/><line x1="22.3" y1="140" x2="45.8" y2="140"/>
<line x1="126.2" y1="103" x2="87.3" y2="77.3"/><line x1="119.1" y1="115.7" x2="87.3" y2="103.3"/><line x1="125" y1="123.3" x2="87.5" y2="125.3"/>
<line x1="159.5" y1="121.5" x2="308.3" y2="176.7"/><line x1="347.7" y1="191" x2="336.9" y2="190.5"/>
<line x1="145.7" y1="179" x2="174.1" y2="179"/><line x1="145.7" y1="214.5" x2="174.1" y2="214.5"/><line x1="145.7" y1="250" x2="174.1" y2="250"/>
<line x1="296.5" y1="183" x2="217.5" y2="187.3"/><line x1="294.8" y1="190.5" x2="217.5" y2="215"/><line x1="298.5" y1="197.5" x2="217.5" y2="237.7"/>
<text class="ld" x="108.3" y="93">.59</text><text class="ld" x="106" y="109.3">.82</text><text class="ld" x="107.3" y="131.3">.71</text>
<text class="pt" x="247.5" y="149.5">-.036</text>
<text class="ld" x="258.3" y="192.7">.82</text><text class="ld" x="258.3" y="208.7">.83</text><text class="ld" x="258.3" y="224.3">.72</text>
</g>
<g id="kan-e1"><circle class="bx" cx="15.3" cy="71" r="7"/><text class="ep" x="12.3" y="73.2">ε<tspan class="sb" dy="1.3">1</tspan></text><text class="vr" x="26.5" y="80.5">.65</text></g>
<g id="kan-e2"><circle class="bx" cx="15.3" cy="105.5" r="7"/><text class="ep" x="12.3" y="107.7">ε<tspan class="sb" dy="1.3">2</tspan></text><text class="vr" x="26.5" y="115">.33</text></g>
<g id="kan-e3"><circle class="bx" cx="15.3" cy="140" r="7"/><text class="ep" x="12.3" y="142.2">ε<tspan class="sb" dy="1.3">3</tspan></text><text class="vr" x="26.5" y="149.5">.49</text></g>
<g id="kan-stop"><rect class="bx" x="46" y="56.5" width="41" height="26"/><text class="lb" x="66.5" y="72.5">stop supp</text><text class="nv" x="86" y="80.5">2.5</text></g>
<g id="kan-force"><rect class="bx" x="46" y="91" width="41" height="26"/><text class="lb" x="66.5" y="107">force</text><text class="nv" x="86" y="115">3.2</text></g>
<g id="kan-hurt"><rect class="bx" x="46" y="125.5" width="41" height="26"/><text class="lb" x="66.5" y="141.5">hurt</text><text class="nv" x="86" y="149.5">3.4</text></g>
<g id="kan-exist"><ellipse class="bx" cx="140.2" cy="113.3" rx="21.5" ry="14"/><text class="one" x="139.5" y="125.8">1</text><text class="lt" x="105.3" y="88">SEX_EXISTENCE</text></g>
<g id="kan-exer"><ellipse class="bx" cx="315.7" cy="190" rx="21" ry="13.3"/><text class="lt" x="284" y="222">SEX_EXERCISE</text></g>
<g id="kan-e7"><circle class="bx" cx="354.7" cy="191" r="7"/><text class="ep" x="351.7" y="193.2">ε<tspan class="sb" dy="1.3">7</tspan></text><text class="vr" x="364" y="195">1</text></g>
<g id="kan-conf"><rect class="bx" x="174.3" y="165" width="43" height="26.5"/><text class="lb" x="195.8" y="181.5">confident</text><text class="nv" x="216" y="189.5">2.2</text></g>
<g id="kan-dec"><rect class="bx" x="174.3" y="200.5" width="43" height="26.5"/><text class="lb" x="195.8" y="217">decide</text><text class="nv" x="216" y="225">2.2</text></g>
<g id="kan-tell"><rect class="bx" x="174.3" y="236" width="43" height="26.5"/><text class="lb" x="195.8" y="252.5">tell no</text><text class="nv" x="216" y="260.5">2.4</text></g>
<g id="kan-e5"><circle class="bx" cx="138.7" cy="179" r="7"/><text class="ep" x="135.7" y="181.2">ε<tspan class="sb" dy="1.3">5</tspan></text><text class="vr" x="150.7" y="187.5">.32</text></g>
<g id="kan-e6"><circle class="bx" cx="138.7" cy="214.5" r="7"/><text class="ep" x="135.7" y="216.7">ε<tspan class="sb" dy="1.3">6</tspan></text><text class="vr" x="150.7" y="223">.32</text></g>
<g id="kan-e4"><circle class="bx" cx="138.7" cy="250" r="7"/><text class="ep" x="135.7" y="252.2">ε<tspan class="sb" dy="1.3">4</tspan></text><text class="vr" x="150.7" y="258.5">.48</text></g>
</g>

<g id="uga" class="d" transform="translate(396.4,1266.8) scale(0.933)">
<g id="uga-conn" class="ln">
<line x1="22.3" y1="71" x2="45.8" y2="71"/><line x1="22.3" y1="105.5" x2="45.8" y2="105.5"/><line x1="22.3" y1="140" x2="45.8" y2="140"/>
<line x1="126.2" y1="103" x2="87.3" y2="77.3"/><line x1="119.1" y1="115.7" x2="87.3" y2="103.3"/><line x1="125" y1="123.3" x2="87.5" y2="125.3"/>
<line x1="159.5" y1="121.5" x2="308.3" y2="176.7"/><line x1="347.7" y1="191" x2="336.9" y2="190.5"/>
<line x1="145.7" y1="179" x2="174.1" y2="179"/><line x1="145.7" y1="214.5" x2="174.1" y2="214.5"/><line x1="145.7" y1="250" x2="174.1" y2="250"/>
<line x1="296.5" y1="183" x2="217.5" y2="187.3"/><line x1="294.8" y1="190.5" x2="217.5" y2="215"/><line x1="298.5" y1="197.5" x2="217.5" y2="237.7"/>
<text class="ld" x="108.3" y="93">.63</text><text class="ld" x="106" y="109.3">.82</text><text class="ld" x="107.3" y="131.3">.77</text>
<text class="pt" x="246" y="149.5">.25</text>
<text class="ld" x="258.3" y="192.7">.6</text><text class="ld" x="258.3" y="208.7">.83</text><text class="ld" x="258.3" y="224.3">.49</text>
</g>
<g id="uga-e1"><circle class="bx" cx="15.3" cy="71" r="7"/><text class="ep" x="12.3" y="73.2">ε<tspan class="sb" dy="1.3">1</tspan></text><text class="vr" x="26.5" y="80.5">.6</text></g>
<g id="uga-e2"><circle class="bx" cx="15.3" cy="105.5" r="7"/><text class="ep" x="12.3" y="107.7">ε<tspan class="sb" dy="1.3">2</tspan></text><text class="vr" x="26.5" y="115">.33</text></g>
<g id="uga-e3"><circle class="bx" cx="15.3" cy="140" r="7"/><text class="ep" x="12.3" y="142.2">ε<tspan class="sb" dy="1.3">3</tspan></text><text class="vr" x="26.5" y="149.5">.4</text></g>
<g id="uga-stop"><rect class="bx" x="46" y="56.5" width="41" height="26"/><text class="lb" x="66.5" y="72.5">stop supp</text><text class="nv" x="86" y="80.5">2</text></g>
<g id="uga-force"><rect class="bx" x="46" y="91" width="41" height="26"/><text class="lb" x="66.5" y="107">force</text><text class="nv" x="86" y="115">2.2</text></g>
<g id="uga-hurt"><rect class="bx" x="46" y="125.5" width="41" height="26"/><text class="lb" x="66.5" y="141.5">hurt</text><text class="nv" x="86" y="149.5">2.5</text></g>
<g id="uga-exist"><ellipse class="bx" cx="140.2" cy="113.3" rx="21.5" ry="14"/><text class="one" x="139.5" y="125.8">1</text><text class="lt" x="105.3" y="88">SEX_EXISTENCE</text></g>
<g id="uga-exer"><ellipse class="bx" cx="315.7" cy="190" rx="21" ry="13.3"/><text class="lt" x="284" y="222">SEX_EXERCISE</text></g>
<g id="uga-e7"><circle class="bx" cx="354.7" cy="191" r="7"/><text class="ep" x="351.7" y="193.2">ε<tspan class="sb" dy="1.3">7</tspan></text><text class="vr" x="364" y="195">.94</text></g>
<g id="uga-conf"><rect class="bx" x="174.3" y="165" width="43" height="26.5"/><text class="lb" x="195.8" y="181.5">confident</text><text class="nv" x="216" y="189.5">2.7</text></g>
<g id="uga-dec"><rect class="bx" x="174.3" y="200.5" width="43" height="26.5"/><text class="lb" x="195.8" y="217">decide</text><text class="nv" x="216" y="225">2.6</text></g>
<g id="uga-tell"><rect class="bx" x="174.3" y="236" width="43" height="26.5"/><text class="lb" x="195.8" y="252.5">tell no</text><text class="nv" x="216" y="260.5">3.6</text></g>
<g id="uga-e5"><circle class="bx" cx="138.7" cy="179" r="7"/><text class="ep" x="135.7" y="181.2">ε<tspan class="sb" dy="1.3">5</tspan></text><text class="vr" x="150.7" y="187.5">.64</text></g>
<g id="uga-e6"><circle class="bx" cx="138.7" cy="214.5" r="7"/><text class="ep" x="135.7" y="216.7">ε<tspan class="sb" dy="1.3">6</tspan></text><text class="vr" x="150.7" y="223">.31</text></g>
<g id="uga-e4"><circle class="bx" cx="138.7" cy="250" r="7"/><text class="ep" x="135.7" y="252.2">ε<tspan class="sb" dy="1.3">4</tspan></text><text class="vr" x="150.7" y="258.5">.76</text></g>
</g>
</svg>
